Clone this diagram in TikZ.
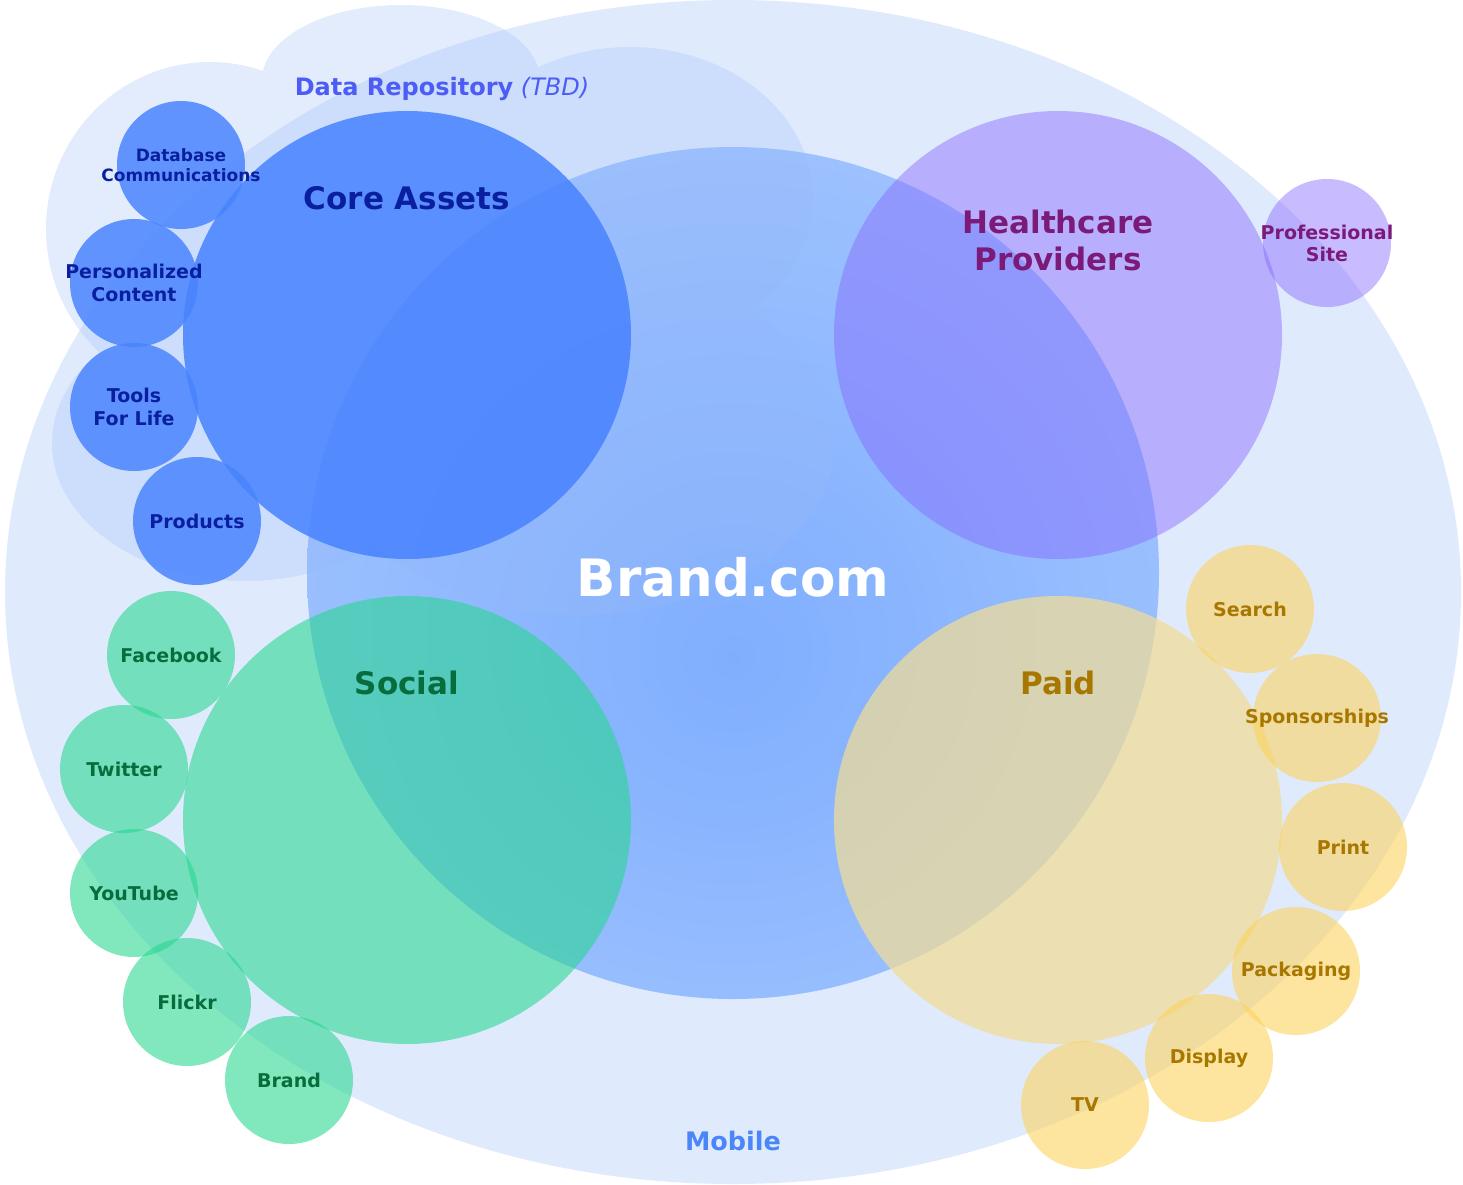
\documentclass[tikz,border=0pt]{standalone}
\usepackage{fontspec}
\setmainfont{DejaVu Sans}
\usetikzlibrary{positioning}

\definecolor{skyblue}{HTML}{98B9F8}
\definecolor{brandin}{HTML}{76A8FF}
\definecolor{brandout}{HTML}{B2CFFF}
\definecolor{corefill}{HTML}{4A84FF}
\definecolor{hcpfill}{HTML}{8568FD}
\definecolor{socialfill}{HTML}{26D88F}
\definecolor{paidfill}{HTML}{F0DC97}
\definecolor{leafgold}{HTML}{FCD25A}
\definecolor{coretxt}{HTML}{0A1FA0}
\definecolor{repotxt}{HTML}{4C5CF5}
\definecolor{hcptxt}{HTML}{7B1A78}
\definecolor{socialtxt}{HTML}{076D3C}
\definecolor{paidtxt}{HTML}{A87700}
\definecolor{mobiletxt}{HTML}{4A86F7}
\pgfdeclareradialshading{brandglow}{\pgfpoint{0bp}{-5bp}}{color(0bp)=(brandin); color(52bp)=(brandout); color(70bp)=(brandout)}

\begin{document}
\begin{tikzpicture}[x=1pt, y=-1pt,
  area/.style = {circle, inner sep=0pt, minimum size=448pt},
  leaf/.style = {circle, inner sep=0pt, minimum size=128pt},
  tag/.style = {align=center, fill opacity=1, text opacity=1, font=\fontsize{19}{23}\selectfont\bfseries},
  title/.style = {align=center, font=\fontsize{31}{37}\selectfont\bfseries},
  blueleaf/.style = {leaf, fill=corefill, fill opacity=0.85, label={[tag, text=coretxt]center:{#1}}},
  greenleaf/.style = {leaf, fill=socialfill, fill opacity=0.58, label={[tag, text=socialtxt]center:{#1}}},
  goldleaf/.style = {leaf, fill=leafgold, fill opacity=0.58, label={[tag, text=paidtxt]center:{#1}}},
  violetleaf/.style = {leaf, fill=hcpfill, fill opacity=0.45, label={[tag, text=hcptxt, font=\fontsize{19}{22}\selectfont\bfseries]center:{#1}}}]
\useasboundingbox (0,0) rectangle (1463,1184);

% mobile
\fill[skyblue, opacity=0.3] (733,592) ellipse [x radius=728, y radius=592];

\node[circle, inner sep=0pt, minimum size=852pt, shading=brandglow, fill opacity=0.9] (brand) at (733,573) {};

% data repository cloud
\fill[skyblue, opacity=0.27] (401,80) ellipse [x radius=139, y radius=75]
  (210,229) ellipse [x radius=164, y radius=167]
  (630,198) ellipse [x radius=183, y radius=151]
  (245,443) ellipse [x radius=193, y radius=138]
  (580,440) ellipse [x radius=255, y radius=175]
  (420,300) ellipse [x radius=200, y radius=200];

% the four areas
\node[area, fill=corefill, fill opacity=0.88] (core) at (407,335) {};
\node[area, fill=hcpfill, fill opacity=0.45] (hcp) at (1058,335) {};
\node[area, fill=socialfill, fill opacity=0.58] (social) at (407,820) {};
\node[area, fill=paidfill, fill opacity=0.73] (paid) at (1058,820) {};

% core assets
\node[leaf, fill=corefill, fill opacity=0.85, label={[tag, text=coretxt, font=\fontsize{17}{20}\selectfont\bfseries]center:{Database\\Communications}}] (dbc) at (181,165) {};
\node[blueleaf={Personalized\\Content}] (pcon) at (134,283) {};
\node[blueleaf={Tools\\For Life}] (tools) at (134,407) {};
\node[blueleaf=Products] (prod) at (197,521) {};

% social
\node[greenleaf=Facebook] (fb) at (171,655) {};
\node[greenleaf=Twitter] (tw) at (124,769) {};
\node[greenleaf=YouTube] (yt) at (134,893) {};
\node[greenleaf=Flickr] (fl) at (187,1002) {};
\node[greenleaf=Brand] (br) at (289,1080) {};

% healthcare providers
\node[violetleaf={Professional\\Site}] (pro) at (1327,243) {};

% paid
\node[goldleaf=Search] (srch) at (1250,609) {};
\node[goldleaf=Sponsorships] (spon) at (1317,718) {};
\node[goldleaf=Print] (prnt) at (1343,847) {};
\node[goldleaf=Packaging] (pack) at (1296,971) {};
\node[goldleaf=Display] (disp) at (1209,1058) {};
\node[goldleaf=TV] (tv) at (1085,1105) {};

% titles
\node[text=repotxt, font=\fontsize{24}{28}\selectfont] (repo) at (442,89) {\textbf{Data Repository} \textit{(TBD)}};
\node[title, text=coretxt] (coret) at (407,198) {Core Assets};
\node[title, text=hcptxt] (hcpt) at (1058,240) {Healthcare\\Providers};
\node[title, text=socialtxt] (socialt) at (407,683) {Social};
\node[title, text=paidtxt] (paidt) at (1058,683) {Paid};
\node[text=white, font=\fontsize{51.5}{60}\selectfont\bfseries] (brandt) at (733,577) {Brand.com};
\node[text=mobiletxt, font=\fontsize{25.5}{30}\selectfont\bfseries] (mobt) at (733,1141) {Mobile};

\end{tikzpicture}
\end{document}
